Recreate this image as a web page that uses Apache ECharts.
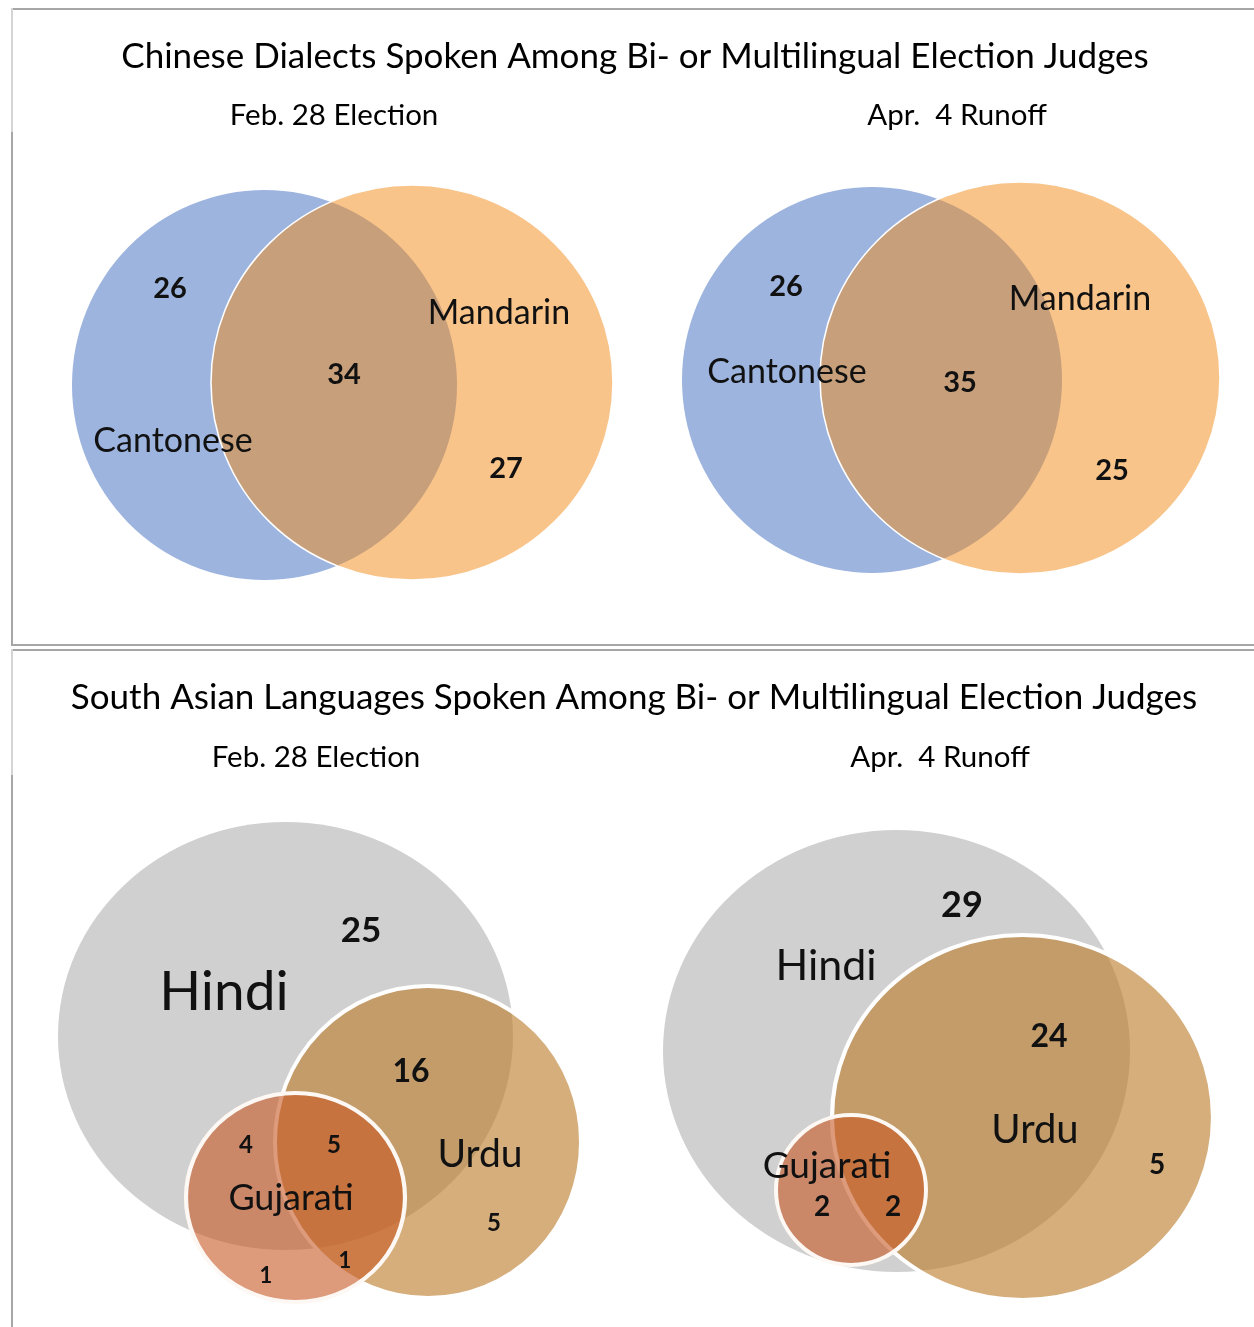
<!DOCTYPE html>
<html>
<head>
<meta charset="utf-8">
<script src="https://cdn.jsdelivr.net/npm/echarts@6/dist/echarts.min.js"></script>
<style>
  html, body { margin: 0; padding: 0; background: #fff; }
  #chart { width: 1254px; height: 1327px; }
</style>
</head>
<body>
<div id="chart"></div>
<script>
// ---- data ----
const chineseTitle = 'Chinese Dialects Spoken Among Bi- or Multilingual Election Judges';
const southAsianTitle = 'South Asian Languages Spoken Among Bi- or Multilingual Election Judges';
const electionNames = ['Feb. 28 Election', 'Apr.  4 Runoff'];

const chineseSets = ['Cantonese', 'Mandarin'];
// Cantonese only, both, Mandarin only
const chineseFebCounts = [26, 34, 27];
const chineseAprCounts = [26, 35, 25];

const southAsianSets = ['Hindi', 'Urdu', 'Gujarati'];
// Hindi only, Hindi+Urdu, Hindi+Gujarati, all three, Urdu only, Gujarati only, Urdu+Gujarati
const southAsianFebCounts = [25, 16, 4, 5, 5, 1, 1];
// Hindi only, Hindi+Urdu, Urdu only, Hindi+Gujarati, all three
const southAsianAprCounts = [29, 24, 5, 2, 2];

// ---- layout (each diagram in its own units, 1 unit = 1px) ----
const panels = [
  { left: 0, top: 140, width: 627, height: 500 },
  { left: 627, top: 140, width: 627, height: 500 },
  { left: 0, top: 790, width: 627, height: 537 },
  { left: 627, top: 790, width: 627, height: 537 }
];

// set outlines: [cx, cy, rx, ry]
const chineseFebShapes = [[264.5, 245, 192.5, 195], [412, 242.5, 201, 197.5]];
const chineseAprShapes = [[245, 240, 190, 193], [393, 238, 200, 196]];
const southAsianFebShapes = [[285.5, 246, 227.5, 214], [428, 352, 153, 156], [295.5, 407.5, 109.5, 104.5]];
const southAsianAprShapes = [[269.5, 261, 233.5, 221], [395.5, 327.5, 190.5, 182.5], [224, 400, 75, 75]];

// label anchors
const chineseFebNamePos = [[173, 301], [499, 173]];
const chineseFebCountPos = [[170, 149], [344, 235], [506, 329]];
const chineseAprNamePos = [[160, 232], [453, 159]];
const chineseAprCountPos = [[159, 147], [333, 243], [485, 331]];
const southAsianFebNamePos = [[224, 202], [480, 364], [291, 408]];
const southAsianFebCountPos = [[361, 141], [411, 282], [246, 355], [334, 355], [494, 433], [266, 486], [345, 471]];
const southAsianAprNamePos = [[199, 176], [408, 340], [200, 376]];
const southAsianAprCountPos = [[335, 115], [422, 247], [530, 375], [195, 417], [266, 417]];

// label sizes
const chineseNameSize = [34, 34];
const chineseCountSize = [29, 29, 29];
const southAsianFebNameSize = [55, 39, 36];
const southAsianFebCountSize = [35, 32, 24, 24, 24, 22, 22];
const southAsianAprNameSize = [43, 40, 37];
const southAsianAprCountSize = [36, 32, 28, 28, 28];

// ---- styles ----
const FONT = 'Lato, "Open Sans", sans-serif';
const chineseStyles = [
  { fill: '#9db4df' },
  { fill: 'rgba(241,137,21,0.5)', stroke: '#ffffff', lineWidth: 1.5 }
];
const southAsianStyles = [
  { fill: '#d0d0d0' },
  { fill: 'rgba(187,124,44,0.62)', stroke: '#ffffff', lineWidth: 4 },
  { fill: 'rgba(200,88,37,0.6)', stroke: '#fdf8f3', lineWidth: 4 }
];

function shapeSeries(idx, shapes, styles) {
  return {
    type: 'custom',
    xAxisIndex: idx,
    yAxisIndex: idx,
    silent: true,
    animation: false,
    clip: false,
    data: shapes,
    renderItem(params, api) {
      const c = api.coord([api.value(0), api.value(1)]);
      const s = api.size([api.value(2), api.value(3)]);
      const st = styles[params.dataIndex];
      return {
        type: 'circle',
        x: c[0],
        y: c[1],
        scaleX: s[0] / s[1],
        shape: { cx: 0, cy: 0, r: s[1] },
        style: {
          fill: st.fill,
          stroke: st.stroke || null,
          lineWidth: st.lineWidth || 0,
          strokeNoScale: true
        }
      };
    }
  };
}

function labelItems(names, namePos, nameSize, counts, countPos, countSize) {
  const items = [];
  names.forEach((n, i) => items.push({ text: n, pos: namePos[i], size: nameSize[i], bold: false }));
  counts.forEach((v, i) => items.push({ text: String(v), pos: countPos[i], size: countSize[i], bold: true }));
  return items;
}

function labelSeries(idx, items) {
  return {
    type: 'custom',
    xAxisIndex: idx,
    yAxisIndex: idx,
    silent: true,
    animation: false,
    clip: false,
    z: 5,
    data: items.map(it => it.pos),
    renderItem(params, api) {
      const it = items[params.dataIndex];
      const c = api.coord([api.value(0), api.value(1)]);
      return {
        type: 'text',
        x: c[0],
        y: c[1],
        style: {
          text: it.text,
          fontFamily: FONT,
          fontSize: it.size,
          fontWeight: it.bold ? 'bold' : 'normal',
          fill: '#111111',
          align: 'center',
          verticalAlign: 'middle'
        }
      };
    }
  };
}

const chart = echarts.init(document.getElementById('chart'));

const frame = '#a6a6a6';
const option = {
  backgroundColor: '#ffffff',
  animation: false,
  title: [
    { text: chineseTitle, left: 635, top: 57 },
    { text: electionNames[0], left: 334, top: 115, sub: true },
    { text: electionNames[1], left: 957, top: 115, sub: true },
    { text: southAsianTitle, left: 634, top: 698 },
    { text: electionNames[0], left: 316, top: 757, sub: true },
    { text: electionNames[1], left: 940, top: 757, sub: true }
  ].map(t => ({
    text: t.text,
    left: t.left,
    top: t.top,
    padding: 0,
    textAlign: 'center',
    textVerticalAlign: 'middle',
    textStyle: {
      fontFamily: FONT,
      fontWeight: 'normal',
      fontSize: t.sub ? 29.5 : 35,
      color: '#000000'
    }
  })),
  grid: panels.map(p => ({ left: p.left, top: p.top, width: p.width, height: p.height })),
  xAxis: panels.map((p, i) => ({ type: 'value', gridIndex: i, min: 0, max: p.width, show: false })),
  yAxis: panels.map((p, i) => ({ type: 'value', gridIndex: i, min: 0, max: p.height, inverse: true, show: false })),
  graphic: [
    { type: 'line', shape: { x1: 12, y1: 9, x2: 1254, y2: 9 }, style: { stroke: frame, lineWidth: 2 } },
    { type: 'line', shape: { x1: 12, y1: 8, x2: 12, y2: 132 }, style: { stroke: '#d4d4d4', lineWidth: 2 } },
    { type: 'line', shape: { x1: 12, y1: 132, x2: 12, y2: 646 }, style: { stroke: frame, lineWidth: 2 } },
    { type: 'line', shape: { x1: 12, y1: 645, x2: 1254, y2: 645 }, style: { stroke: frame, lineWidth: 2 } },
    { type: 'line', shape: { x1: 12, y1: 650, x2: 1254, y2: 650 }, style: { stroke: frame, lineWidth: 2 } },
    { type: 'line', shape: { x1: 12, y1: 649, x2: 12, y2: 775 }, style: { stroke: '#d4d4d4', lineWidth: 2 } },
    { type: 'line', shape: { x1: 12, y1: 775, x2: 12, y2: 1327 }, style: { stroke: frame, lineWidth: 2 } }
  ],
  series: [
    shapeSeries(0, chineseFebShapes, chineseStyles),
    shapeSeries(1, chineseAprShapes, chineseStyles),
    shapeSeries(2, southAsianFebShapes, southAsianStyles),
    shapeSeries(3, southAsianAprShapes, southAsianStyles),
    labelSeries(0, labelItems(chineseSets, chineseFebNamePos, chineseNameSize, chineseFebCounts, chineseFebCountPos, chineseCountSize)),
    labelSeries(1, labelItems(chineseSets, chineseAprNamePos, chineseNameSize, chineseAprCounts, chineseAprCountPos, chineseCountSize)),
    labelSeries(2, labelItems(southAsianSets, southAsianFebNamePos, southAsianFebNameSize, southAsianFebCounts, southAsianFebCountPos, southAsianFebCountSize)),
    labelSeries(3, labelItems(southAsianSets, southAsianAprNamePos, southAsianAprNameSize, southAsianAprCounts, southAsianAprCountPos, southAsianAprCountSize))
  ]
};

chart.setOption(option);
</script>
</body>
</html>
